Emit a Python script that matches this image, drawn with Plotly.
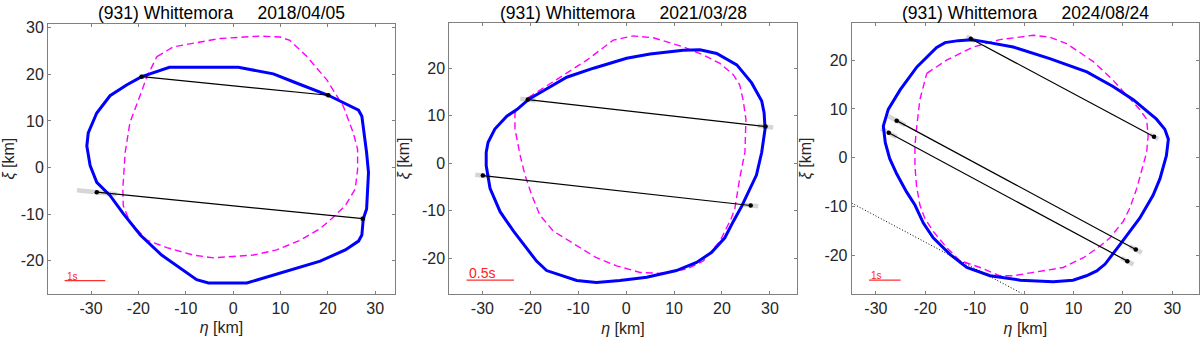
import plotly.graph_objects as go

# ---------------- data ----------------
titles = ["(931) Whittemora     2018/04/05",
          "(931) Whittemora     2021/03/28",
          "(931) Whittemora     2024/08/24"]

# panel 1 (2018/04/05)
blue_eta_1 = [-19.3, -13.45, 1.1, 8.5, 12.7, 20.1, 26.5, 27.2, 28.2, 28.6, 28.2, 27.5, 27.2, 26.5, 23.7, 18.4, 2.9, -5.2, -7.7, -11.2, -15.1, -19.6, -23.2, -26.0, -28.8, -30.2, -30.9, -30.6, -28.8, -26.0, -22.5, -19.3]
blue_xi_1 = [19.5, 21.5, 21.5, 20.1, 18.4, 15.5, 12.3, 11.0, 3.2, -1.1, -8.9, -11.0, -14.5, -15.8, -17.7, -20.1, -24.8, -24.8, -24.1, -21.6, -18.8, -14.5, -9.9, -6.0, -3.2, 0.4, 4.6, 7.4, 11.7, 15.4, 17.7, 19.5]
mag_eta_1 = [-16.1, -12.6, -2.7, 5.7, 9.9, 12.0, 15.6, 19.8, 23.3, 25.4, 26.3, 26.3, 25.8, 23.7, 20.8, 18.4, 14.2, 9.2, 4.3, -4.2, -8.4, -14.0, -18.2, -21.8, -23.2, -23.3, -22.8, -21.8, -20.0, -18.2, -16.1]
mag_xi_1 = [23.8, 25.9, 27.7, 28.2, 28.0, 27.3, 23.8, 18.8, 13.1, 7.4, 3.9, -0.4, -4.6, -8.2, -11.0, -13.1, -15.6, -17.7, -18.8, -19.4, -18.8, -17.2, -15.6, -11.7, -8.2, -4.6, 3.2, 9.6, 14.5, 19.5, 23.8]
chord_eta0_1 = [-19.3, -28.8]
chord_xi0_1 = [19.5, -5.3]
chord_eta1_1 = [20.1, 27.4]
chord_xi1_1 = [15.5, -11.0]
err0_1 = [0.6, 4.2]
err1_1 = [0.6, 0.6]

# panel 2 (2021/03/28)
blue_eta_2 = [-20.4, -16.6, -12.4, -6.8, 0.1, 5.0, 11.9, 15.4, 18.9, 23.1, 26.2, 28.3, 28.8, 29.0, 28.3, 27.2, 25.5, 24.1, 22.4, 20.6, 17.8, 14.7, 10.5, 4.3, -1.3, -6.2, -10.3, -16.6, -18.7, -23.5, -26.3, -28.4, -29.2, -29.2, -28.8, -27.4, -24.9, -22.8, -20.4]
blue_xi_2 = [13.4, 15.6, 18.1, 20.0, 22.1, 23.0, 23.8, 23.9, 23.1, 20.7, 16.9, 13.1, 10.6, 7.2, 2.3, -2.5, -6.3, -9.1, -12.2, -15.7, -18.8, -20.9, -22.6, -24.0, -24.7, -25.1, -24.7, -22.6, -20.6, -14.3, -10.2, -5.3, -0.5, 2.3, 4.4, 7.2, 9.9, 11.3, 13.4]
mag_eta_2 = [-20.4, -15.2, -8.2, -2.7, 1.5, 5.7, 11.9, 16.1, 19.6, 22.4, 23.7, 24.4, 25.0, 24.8, 23.7, 22.7, 22.0, 19.6, 16.1, 12.6, 7.1, 2.9, -2.0, -6.2, -9.6, -15.2, -18.0, -19.7, -21.1, -22.1, -23.2, -23.2, -20.4]
mag_xi_2 = [13.8, 17.2, 21.7, 25.9, 26.8, 26.4, 24.5, 22.8, 21.0, 18.6, 16.5, 13.4, 9.3, 2.3, -3.2, -9.5, -11.5, -16.4, -20.6, -22.3, -23.2, -23.0, -21.6, -19.9, -17.8, -14.3, -10.9, -6.7, -2.5, 1.6, 7.2, 10.6, 13.8]
chord_eta0_2 = [-20.5, -29.9]
chord_xi0_2 = [13.4, -2.6]
chord_eta1_2 = [29.1, 26.0]
chord_xi1_2 = [7.7, -8.9]
err0_2 = [1.6, 1.6]
err1_2 = [1.6, 1.6]

# panel 3 (2024/08/24)
blue_eta_3 = [-10.6, -13.3, -16.0, -17.7, -21.7, -25.1, -27.5, -28.5, -28.1, -27.2, -25.8, -23.8, -22.1, -20.4, -18.4, -15.0, -11.6, -6.9, -0.8, 5.9, 9.9, 12.6, 14.7, 16.4, 19.4, 23.4, 26.1, 27.5, 28.8, 29.2, 28.5, 26.8, 24.8, 22.1, 18.0, 12.7, 5.2, -2.2, -7.6, -10.6]
blue_xi_3 = [24.2, 24.0, 23.6, 22.6, 18.6, 13.9, 9.9, 6.5, 3.1, -0.2, -3.3, -7.0, -9.7, -13.4, -16.4, -19.8, -22.5, -24.2, -25.1, -25.4, -25.1, -24.2, -23.2, -21.8, -17.8, -12.4, -7.7, -4.3, 0.4, 3.8, 5.8, 7.9, 9.6, 11.9, 14.6, 17.6, 20.3, 22.7, 23.7, 24.2]
mag_eta_3 = [-19.7, -15.7, -10.3, -4.9, 1.9, 5.2, 8.6, 14.0, 18.0, 21.4, 23.4, 24.8, 25.1, 24.8, 23.8, 22.8, 21.4, 20.1, 17.4, 15.4, 12.0, 7.9, 1.9, -2.2, -4.9, -8.9, -13.0, -15.7, -18.4, -20.1, -21.1, -21.8, -22.1, -22.1, -21.8, -21.1, -19.7]
mag_xi_3 = [17.3, 20.0, 22.7, 24.2, 25.1, 24.7, 23.4, 19.7, 15.9, 12.2, 9.9, 7.9, 4.5, 1.1, -2.9, -6.3, -10.3, -13.0, -16.4, -18.1, -20.5, -22.5, -23.5, -24.2, -24.2, -22.5, -21.1, -18.4, -15.1, -12.4, -9.7, -5.6, -1.6, 2.5, 5.8, 11.9, 17.3]
chord_eta0_3 = [-10.8, -25.8, -27.4]
chord_xi0_3 = [24.4, 7.6, 5.1]
chord_eta1_3 = [26.3, 22.6, 20.9]
chord_xi1_3 = [4.3, -18.8, -21.2]
err0_3 = [1.0, 2.0, 1.8]
err1_3 = [1.0, 1.4, 1.4]
neg_eta_3 = [-34.9, -0.5]
neg_xi_3 = [-9.3, -27.8]

scale_labels = ["1s", "0.5s", "1s"]
scale_eta0 = [-35.6, -33.3, -31.4]
scale_eta1 = [-27.0, -23.4, -25.0]
scale_xi = [-24.3, -24.6, -25.1]

x_ticks = [-30, -20, -10, 0, 10, 20, 30]
y_ticks_list = [[-20, -10, 0, 10, 20, 30], [-20, -10, 0, 10, 20], [-20, -10, 0, 10, 20]]
x_ranges = [[-39.1, 34.2], [-36.9, 35.6], [-34.9, 35.4]]
y_ranges = [[-27.06, 30.85], [-27.5, 29.5], [-27.9, 27.6]]

# ---------------- layout geometry (pixels) ----------------
W, H = 1200, 338
boxes = [(48, 395, 20, 293), (449.3, 796.7, 19.3, 293.3), (851.7, 1199, 19.3, 293.3)]

panels = [
    (blue_eta_1, blue_xi_1, mag_eta_1, mag_xi_1, chord_eta0_1, chord_xi0_1, chord_eta1_1, chord_xi1_1, err0_1, err1_1),
    (blue_eta_2, blue_xi_2, mag_eta_2, mag_xi_2, chord_eta0_2, chord_xi0_2, chord_eta1_2, chord_xi1_2, err0_2, err1_2),
    (blue_eta_3, blue_xi_3, mag_eta_3, mag_xi_3, chord_eta0_3, chord_xi0_3, chord_eta1_3, chord_xi1_3, err0_3, err1_3),
]

fig = go.Figure()
FONT = "Liberation Sans, Arial, sans-serif"
annotations = []

for i, (be, bx, me, mx, ce0, cx0, ce1, cx1, e0, e1) in enumerate(panels):
    n = i + 1
    xa = "x" if n == 1 else f"x{n}"
    ya = "y" if n == 1 else f"y{n}"

    # gray uncertainty bars at chord ends
    for a0, b0, a1, b1, u0, u1 in zip(ce0, cx0, ce1, cx1, e0, e1):
        L = ((a1 - a0) ** 2 + (b1 - b0) ** 2) ** 0.5
        dx, dy = (a1 - a0) / L, (b1 - b0) / L
        for (pa, pb, u) in [(a0, b0, u0), (a1, b1, u1)]:
            fig.add_trace(go.Scatter(x=[pa - u * dx, pa + u * dx], y=[pb - u * dy, pb + u * dy],
                                     mode="lines", line=dict(color="#d6d6d6", width=4.5),
                                     xaxis=xa, yaxis=ya, showlegend=False, hoverinfo="skip"))

    # magenta dashed contour
    fig.add_trace(go.Scatter(x=me, y=mx, mode="lines",
                             line=dict(color="#ff00ff", width=1.4, dash="7px,4px"),
                             xaxis=xa, yaxis=ya, showlegend=False))
    # blue contour
    fig.add_trace(go.Scatter(x=be, y=bx, mode="lines",
                             line=dict(color="#0000ff", width=3),
                             xaxis=xa, yaxis=ya, showlegend=False))
    # chords
    for a0, b0, a1, b1 in zip(ce0, cx0, ce1, cx1):
        fig.add_trace(go.Scatter(x=[a0, a1], y=[b0, b1], mode="lines+markers",
                                 line=dict(color="black", width=1.2),
                                 marker=dict(color="black", size=4.5),
                                 xaxis=xa, yaxis=ya, showlegend=False))
    # negative chord (panel 3)
    if n == 3:
        fig.add_trace(go.Scatter(x=neg_eta_3, y=neg_xi_3, mode="lines",
                                 line=dict(color="black", width=1, dash="1px,2px"),
                                 xaxis=xa, yaxis=ya, showlegend=False))
    # scale bar
    fig.add_trace(go.Scatter(x=[scale_eta0[i], scale_eta1[i]], y=[scale_xi[i], scale_xi[i]],
                             mode="lines", line=dict(color="#ff3030", width=1.2),
                             xaxis=xa, yaxis=ya, showlegend=False))
    annotations.append(dict(x=scale_eta0[i], y=scale_xi[i], xref=xa, yref=ya,
                            text=scale_labels[i], showarrow=False,
                            xanchor="left", yanchor="bottom", yshift=-3,
                            font=dict(family=FONT, size=14 if n == 2 else 10, color="#ff2020")))

    x0, x1, y0, y1 = boxes[i]
    dom_x = [x0 / W, x1 / W]
    dom_y = [(H - y1) / H, (H - y0) / H]
    axcommon = dict(showline=True, mirror="allticks", linecolor="#808080", linewidth=1,
                    ticks="inside", ticklen=3, tickcolor="#808080", showgrid=False,
                    zeroline=False, tickfont=dict(family=FONT, size=16, color="#262626"),
                    fixedrange=True)
    fig.layout[f"xaxis{'' if n == 1 else n}"] = dict(
        domain=dom_x, range=x_ranges[i], tickvals=x_ticks,
        ticktext=[str(t) for t in x_ticks], anchor=ya,
        title=dict(text="<i>η</i> [km]", font=dict(family=FONT, size=16, color="#262626"), standoff=6),
        **axcommon)
    fig.layout[f"yaxis{'' if n == 1 else n}"] = dict(
        domain=dom_y, range=y_ranges[i], tickvals=y_ticks_list[i],
        ticktext=[str(t) for t in y_ticks_list[i]], anchor=xa,
        title=dict(text="<i>ξ</i> [km]", font=dict(family=FONT, size=16, color="#262626"), standoff=8),
        **axcommon)
    # panel title
    annotations.append(dict(x=(x0 + x1) / 2 / W, y=1.0, xref="paper", yref="paper",
                            text=titles[i].replace(" ", "&nbsp;"), showarrow=False,
                            xanchor="center", yanchor="top", yshift=3,
                            font=dict(family=FONT, size=17.5, color="black")))

fig.update_layout(width=W, height=H, margin=dict(l=0, r=0, t=0, b=0),
                  paper_bgcolor="white", plot_bgcolor="white",
                  annotations=annotations, showlegend=False)

fig.write_html("out.html", config={"displayModeBar": False})

# remove the default page margin so the figure sits at the window origin
with open("out.html", "r", encoding="utf-8") as f:
    html = f.read()
html = html.replace("<head>", "<head><style>html,body{margin:0;padding:0;overflow:hidden;}</style>", 1)
with open("out.html", "w", encoding="utf-8") as f:
    f.write(html)
